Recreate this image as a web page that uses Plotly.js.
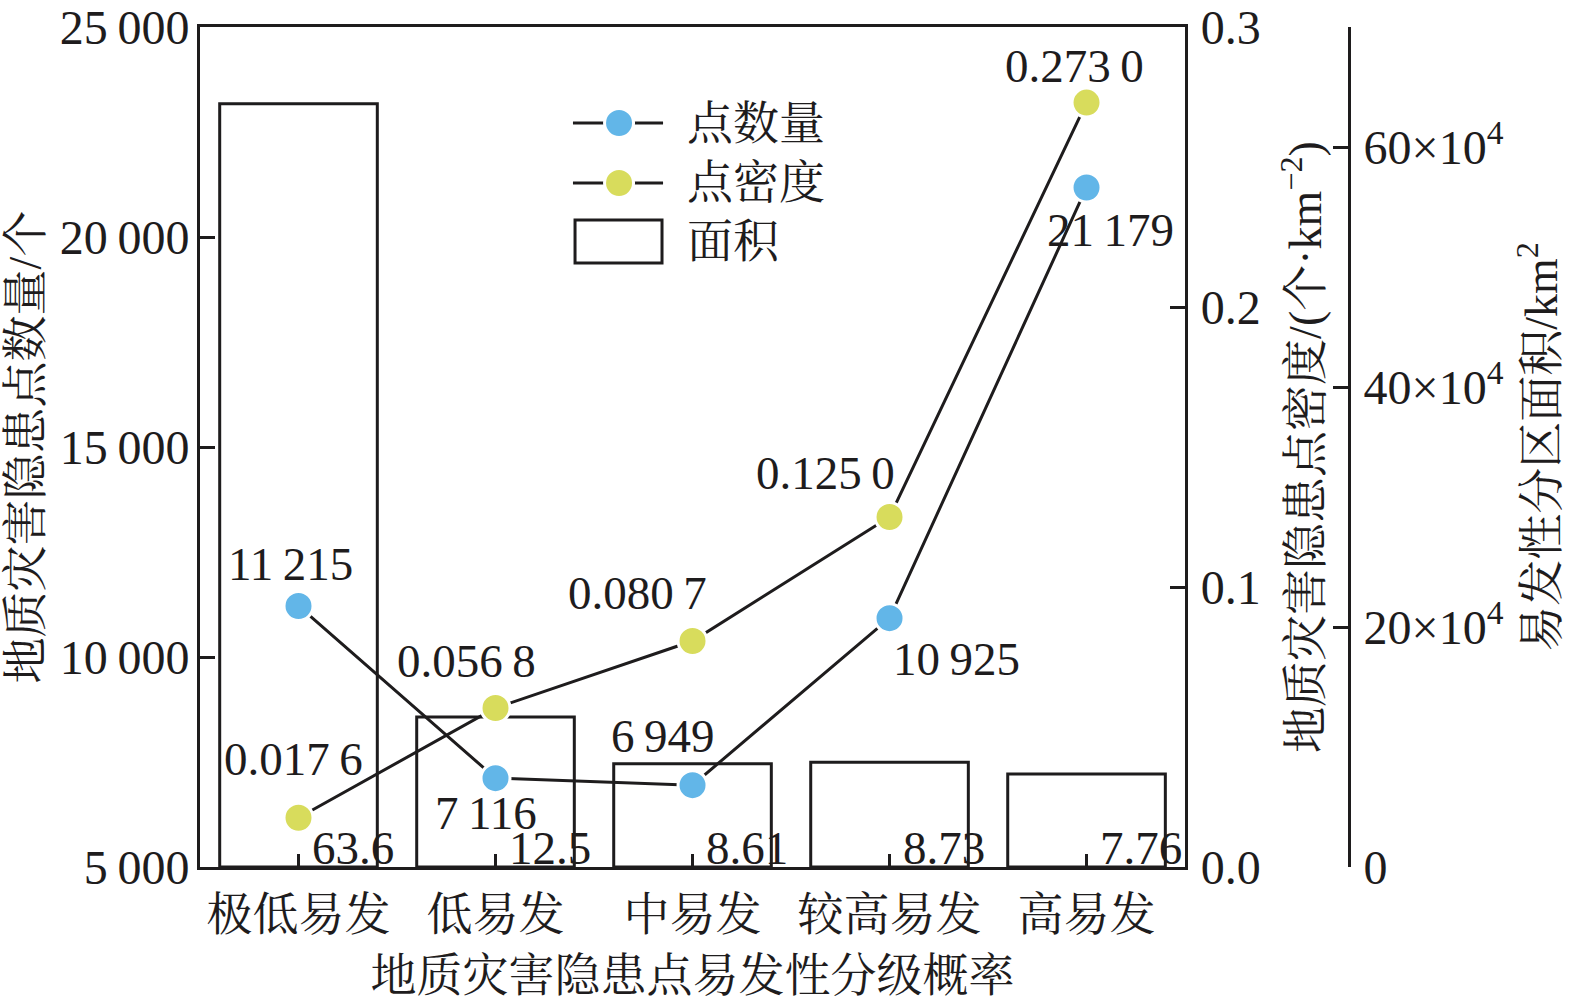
<!DOCTYPE html>
<html>
<head>
<meta charset="utf-8">
<script src="https://cdn.plot.ly/plotly-3.0.1.min.js"></script>
<style>
  html, body { margin: 0; padding: 0; background: #ffffff; }
  #chart { width: 1575px; height: 1004px; }
</style>
</head>
<body>
<div id="chart"></div>
<script>
// ---------------- data ----------------
const categories = ['极低易发', '低易发', '中易发', '较高易发', '高易发'];
const pointCount = [11215, 7116, 6949, 10925, 21179];           // 个
const pointDensity = [0.0176, 0.0568, 0.0807, 0.1250, 0.2730];  // 个·km^-2
const zoneArea = [63.6, 12.5, 8.61, 8.73, 7.76];                // ×10^4 km^2

const countTickVals = [5000, 10000, 15000, 20000, 25000];
const countTickText = ['5\u2009000', '10\u2009000', '15\u2009000', '20\u2009000', '25\u2009000'];
const densityTickVals = [0, 0.1, 0.2, 0.3];
const densityTickText = ['0.0', '0.1', '0.2', '0.3'];
const areaTickVals = [0, 20, 40, 60];
const areaTickText = ['0', '20×10<sup>4</sup>', '40×10<sup>4</sup>', '60×10<sup>4</sup>'];

const seriesNames = ['点数量', '点密度', '面积'];

// label offsets (pixels) – styling only
const countLabelShift = [[-8, 42], [-10, -35], [-30, 49], [67, -41], [24, -43]];
const densityLabelShift = [[-5, 59], [-29, 47], [-55, 48], [-64, 44], [-12, 37]];

// ---------------- styles ----------------
const FONT = 'Liberation Serif, "Times New Roman", "Noto Serif CJK SC", "Noto Sans CJK SC", serif';
const INK = '#1e1c1d';
const BLUE = '#62b6e8';
const YELLOW = '#d8dc5c';
const FS = 46;     // CJK text
const NFS = 48;    // numeric tick labels
const LFS = 47;    // data labels

function fmtCount(v) {
  return String(v).replace(/\B(?=(\d{3})+(?!\d))/g, '\u2009');
}
function fmtDensity(v) {
  const s = v.toFixed(4);
  return s.slice(0, 5) + '\u2009' + s.slice(5);
}

const traces = [
  {
    type: 'bar', name: seriesNames[2], x: categories, y: zoneArea,
    xaxis: 'x', yaxis: 'y', width: 0.8,
    marker: { color: 'rgba(255,255,255,0)', line: { color: INK, width: 3 } },
    hoverinfo: 'skip', showlegend: false
  },
  {
    type: 'scatter', mode: 'lines+markers', name: seriesNames[0],
    x: categories, y: pointCount, xaxis: 'x', yaxis: 'y2',
    line: { color: INK, width: 3 },
    marker: { color: BLUE, size: 29, line: { color: '#ffffff', width: 3 } },
    showlegend: false
  },
  {
    type: 'scatter', mode: 'lines+markers', name: seriesNames[1],
    x: categories, y: pointDensity, xaxis: 'x', yaxis: 'y3',
    line: { color: INK, width: 3 },
    marker: { color: YELLOW, size: 29, line: { color: '#ffffff', width: 3 } },
    showlegend: false
  }
];

const annotations = [];
categories.forEach((c, i) => {
  annotations.push({
    x: c, y: pointCount[i], xref: 'x', yref: 'y2', text: fmtCount(pointCount[i]),
    showarrow: false, xanchor: 'center', yanchor: 'middle',
    xshift: countLabelShift[i][0], yshift: countLabelShift[i][1],
    font: { family: FONT, size: LFS, color: INK }
  });
  annotations.push({
    x: c, y: pointDensity[i], xref: 'x', yref: 'y3', text: fmtDensity(pointDensity[i]),
    showarrow: false, xanchor: 'center', yanchor: 'middle',
    xshift: densityLabelShift[i][0], yshift: densityLabelShift[i][1],
    font: { family: FONT, size: LFS, color: INK }
  });
  annotations.push({
    x: c, y: 0, xref: 'x', yref: 'y', text: String(zoneArea[i]),
    showarrow: false, xanchor: 'left', yanchor: 'bottom',
    xshift: 12, yshift: -8, borderpad: 0,
    font: { family: FONT, size: LFS, color: INK }
  });
});

// custom legend (paper coords)
const legRows = [0.8857, 0.8143];
const legX0 = 0.3246, legX1 = 0.4030, legMx = 0.3647, legTx = 0.4222;
const shapes = [];
[BLUE, YELLOW].forEach((col, k) => {
  shapes.push({ type: 'line', xref: 'paper', yref: 'paper', x0: legX0, x1: legX1,
    y0: legRows[k], y1: legRows[k], line: { color: INK, width: 3 } });
  shapes.push({ type: 'circle', xref: 'paper', yref: 'paper',
    xsizemode: 'pixel', ysizemode: 'pixel', xanchor: legMx, yanchor: legRows[k],
    x0: -14.5, x1: 14.5, y0: -14.5, y1: 14.5,
    fillcolor: col, line: { color: '#ffffff', width: 3 } });
  annotations.push({ xref: 'paper', yref: 'paper', x: legTx, y: legRows[k],
    xanchor: 'left', yanchor: 'middle', showarrow: false, text: seriesNames[k],
    font: { family: FONT, size: FS, color: INK } });
});
shapes.push({ type: 'rect', xref: 'paper', yref: 'paper', x0: 0.3264, x1: 0.4021,
  y0: 0.7190, y1: 0.7702, fillcolor: 'rgba(0,0,0,0)', line: { color: INK, width: 3 } });
annotations.push({ xref: 'paper', yref: 'paper', x: legTx, y: 0.7446,
  xanchor: 'left', yanchor: 'middle', showarrow: false, text: seriesNames[2],
  font: { family: FONT, size: FS, color: INK } });

const axisCommon = {
  showgrid: false, zeroline: false, showline: true, linecolor: INK, linewidth: 3,
  ticks: 'inside', tickcolor: INK, tickwidth: 3, ticklen: 15,
  tickfont: { family: FONT, size: NFS, color: INK }
};

const layout = {
  width: 1575, height: 1004,
  margin: { l: 200, r: 226, t: 27, b: 137, pad: 0 },
  paper_bgcolor: '#ffffff', plot_bgcolor: 'rgba(0,0,0,0)',
  showlegend: false,
  font: { family: FONT, size: FS, color: INK },
  xaxis: Object.assign({}, axisCommon, {
    domain: [0, 0.8573], anchor: 'y2', mirror: true, ticklen: 13,
    tickfont: { family: FONT, size: FS, color: INK },
    ticklabelstandoff: 5,
    categoryorder: 'array', categoryarray: categories,
    title: { text: '地质灾害隐患点易发性分级概率', standoff: 20,
      font: { family: FONT, size: FS, color: INK } }
  }),
  // base axis: area (outer right)
  yaxis: Object.assign({}, axisCommon, {
    anchor: 'free', position: 1, side: 'right',
    range: [0, 70], tickmode: 'array', tickvals: areaTickVals, ticktext: areaTickText,
    ticklabelstandoff: 3,
    title: { text: '易发性分区面积/km<sup>2</sup>', standoff: 22,
      font: { family: FONT, size: FS, color: INK } }
  }),
  // counts (left)
  yaxis2: Object.assign({}, axisCommon, {
    overlaying: 'y', anchor: 'x', side: 'left',
    range: [5000, 25000], tickmode: 'array', tickvals: countTickVals, ticktext: countTickText,
    ticklabelstandoff: -2,
    title: { text: '地质灾害隐患点数量/个', standoff: 6,
      font: { family: FONT, size: FS, color: INK } }
  }),
  // density (inner right)
  yaxis3: Object.assign({}, axisCommon, {
    overlaying: 'y', anchor: 'x', side: 'right',
    range: [0, 0.3], tickmode: 'array', tickvals: densityTickVals, ticktext: densityTickText,
    ticklabelstandoff: 3,
    title: { text: '地质灾害隐患点密度/(个·km<sup>−2</sup>)', standoff: 30,
      font: { family: FONT, size: FS, color: INK } }
  }),
  annotations: annotations,
  shapes: shapes
};

Plotly.newPlot('chart', traces, layout, { staticPlot: true, displayModeBar: false });
</script>
</body>
</html>
